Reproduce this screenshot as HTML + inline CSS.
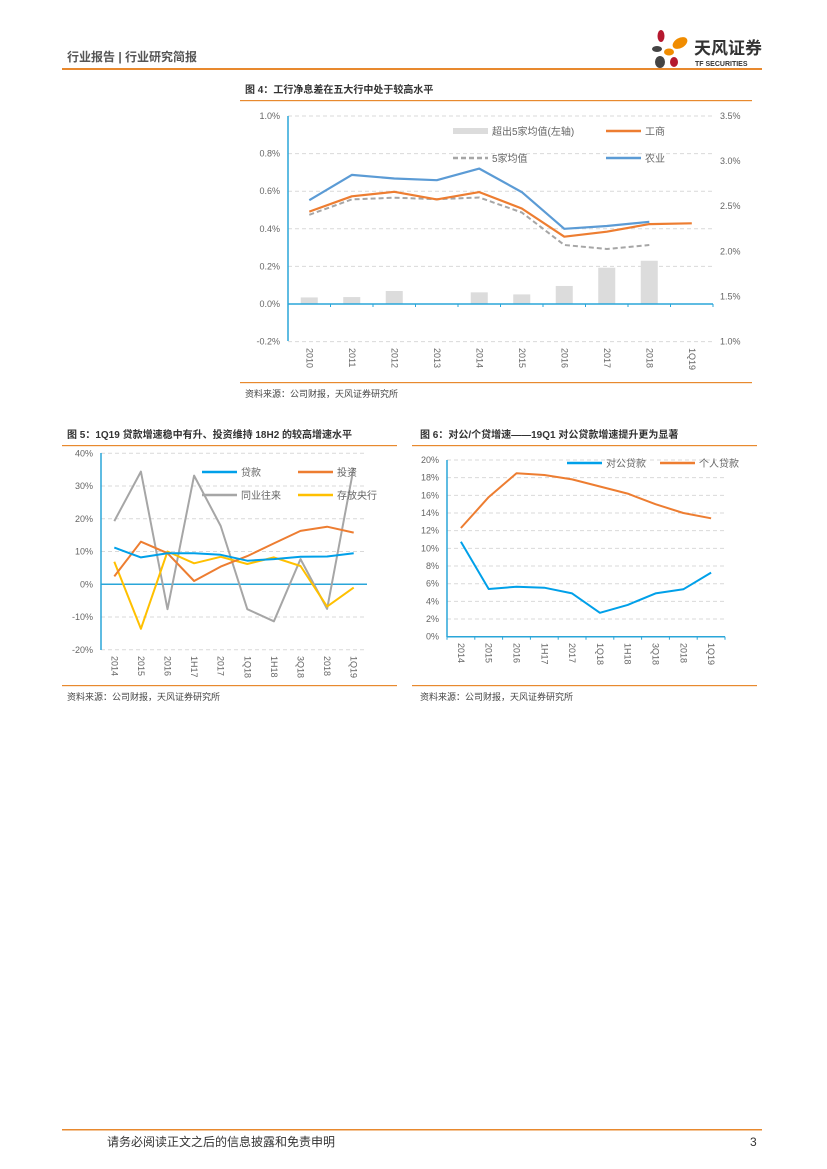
<!DOCTYPE html>
<html><head><meta charset="utf-8">
<style>
html,body{margin:0;padding:0;background:#fff;}
svg{display:block;font-family:"Liberation Sans","Noto Sans CJK SC",sans-serif;}
</style></head>
<body>
<svg id="pg" width="827" height="1169" viewBox="0 0 827 1169" xmlns="http://www.w3.org/2000/svg">
<g>
<text x="67" y="61" font-size="12" font-weight="bold" fill="#555">行业报告 | 行业研究简报</text>
<g>
<ellipse cx="661" cy="36" rx="3.5" ry="6" fill="#b5192f"/>
<ellipse cx="657" cy="49" rx="5" ry="3" fill="#444"/>
<ellipse cx="680" cy="43" rx="8" ry="5" fill="#f08c00" transform="rotate(-30 680 43)"/>
<ellipse cx="669" cy="52" rx="5" ry="3.5" fill="#f08c00"/>
<ellipse cx="660" cy="62" rx="5" ry="6" fill="#444"/>
<ellipse cx="674" cy="62" rx="4" ry="5" fill="#b5192f"/>
<text x="694" y="54" font-size="17" font-weight="bold" fill="#333">天风证券</text>
<text x="695" y="66" font-size="7" font-weight="bold" fill="#333">TF SECURITIES</text>
</g>
<rect x="62" y="68" width="700" height="2" fill="#e8892e"/>
</g>
<g id="c4"></g>
<g id="c5"></g>
<g id="c6"></g>
<g>
<rect x="62" y="1129" width="700" height="1.5" fill="#e8892e"/>
<text x="107" y="1146" font-size="12" fill="#333">请务必阅读正文之后的信息披露和免责申明</text>
<text x="750" y="1146" font-size="12" fill="#333">3</text>
</g>
</svg>
<script>
const NS="http://www.w3.org/2000/svg";
const c4Cats=["2010","2011","2012","2013","2014","2015","2016","2017","2018","1Q19"];
const c4Bars=[0.035,0.037,0.069,0,0.062,0.051,0.096,0.193,0.23,null];
const c4ICBC=[2.44,2.61,2.66,2.575,2.656,2.475,2.162,2.217,2.302,2.31];
const c4Avg=[2.405,2.575,2.594,2.578,2.597,2.43,2.07,2.025,2.07,null];
const c4ABC=[2.567,2.847,2.807,2.788,2.917,2.656,2.25,2.28,2.327,null];
const c4LeftTicks=["-0.2%","0.0%","0.2%","0.4%","0.6%","0.8%","1.0%"];
const c4LeftVals=[-0.2,0,0.2,0.4,0.6,0.8,1.0];
const c4RightTicks=["1.0%","1.5%","2.0%","2.5%","3.0%","3.5%"];
const c4RightVals=[1.0,1.5,2.0,2.5,3.0,3.5];

const c5Cats=["2014","2015","2016","1H17","2017","1Q18","1H18","3Q18","2018","1Q19"];
const c5Loan=[11.2,8.2,9.5,9.5,9.0,7.2,7.7,8.4,8.5,9.5];
const c5Invest=[2.4,13,9.5,1.0,5.4,8.6,12.5,16.3,17.6,15.8];
const c5Interbank=[19.3,34.4,-7.6,33.2,17.8,-7.6,-11.3,7.7,-7.5,35.6];
const c5Central=[6.9,-13.6,10,6.4,8.4,6.2,8.2,5.6,-6.8,-1.0];
const c5Ticks=["-20%","-10%","0%","10%","20%","30%","40%"];
const c5TickVals=[-20,-10,0,10,20,30,40];

const c6Cats=["2014","2015","2016","1H17","2017","1Q18","1H18","3Q18","2018","1Q19"];
const c6Corp=[10.75,5.4,5.66,5.55,4.9,2.7,3.6,4.9,5.36,7.25];
const c6Retail=[12.3,15.8,18.5,18.3,17.8,17.0,16.2,15.0,14.0,13.4];
const c6Ticks=["0%","2%","4%","6%","8%","10%","12%","14%","16%","18%","20%"];
const c6TickVals=[0,2,4,6,8,10,12,14,16,18,20];

function el(parent,tag,attrs,text){
  const e=document.createElementNS(NS,tag);
  for(const k in attrs) e.setAttribute(k,attrs[k]);
  if(text!==undefined) e.textContent=text;
  parent.appendChild(e);return e;
}
function lin(d0,d1,r0,r1){return v=>r0+(v-d0)*(r1-r0)/(d1-d0);}
function linePath(vals,xf,yf){
  let d="",started=false;
  vals.forEach((v,i)=>{if(v===null)return;d+=(started?"L":"M")+xf(i).toFixed(1)+","+yf(v).toFixed(1);started=true;});
  return d;
}
function frame(g,title,tx,ty,rx0,rx1,srcY){
  const t=el(g,"text",{x:tx,y:ty,"font-size":"10","font-weight":"bold",fill:"#333"},title);
  
  
  el(g,"rect",{x:rx0,y:ty+7,width:rx1-rx0,height:1.2,fill:"#e8892e"});
  el(g,"rect",{x:rx0,y:srcY,width:rx1-rx0,height:1.2,fill:"#e8892e"});
  const s=el(g,"text",{x:tx,y:srcY+15,"font-size":"9",fill:"#444"},"资料来源：公司财报，天风证券研究所");
  
  
}
function catLabels(g,cats,xf,y){
  cats.forEach((c,i)=>{
    const t=el(g,"text",{x:0,y:0,"font-size":"9",fill:"#666",transform:`translate(${xf(i)-3},${y}) rotate(90)`},c);
    
    
  });
}
function series(g,vals,xf,yf,color,w,name,dash){
  const p=el(g,"path",{d:linePath(vals,xf,yf),fill:"none",stroke:color,"stroke-width":w,"stroke-linejoin":"round"});
  if(dash)p.setAttribute("stroke-dasharray",dash);
  
  
}
function legend(g,x,y,color,label,name,dash,isBar){
  const lg=el(g,"g",{});
  
  
  if(isBar) el(lg,"rect",{x:x,y:y-3,width:35,height:6,fill:"#dcdcdc"});
  else{const l=el(lg,"line",{x1:x,y1:y,x2:x+35,y2:y,stroke:color,"stroke-width":2.5});if(dash)l.setAttribute("stroke-dasharray",dash);}
  el(lg,"text",{x:x+39,y:y+4,"font-size":"10",fill:"#666"},label);
}

// Figure 4
(function(){
  const g=document.getElementById("c4");
  frame(g,"图 4：工行净息差在五大行中处于较高水平",245,93,240,752,382);
  const x0=288,x1=713,n=c4Cats.length,bw=(x1-x0)/n;
  const xf=i=>x0+bw*(i+0.5);
  const yL=lin(0,1.0,304,116), yR=lin(1.0,3.5,341.5,116);
  c4LeftVals.forEach((v,i)=>{
    el(g,"line",{x1:x0,x2:x1,y1:yL(v),y2:yL(v),stroke:"#d9d9d9","stroke-dasharray":"4,3"});
    const t=el(g,"text",{x:x0-8,y:yL(v)+3,"font-size":"9",fill:"#666","text-anchor":"end"},c4LeftTicks[i]);
    
    
  });
  c4RightVals.forEach((v,i)=>{
    const t=el(g,"text",{x:720,y:yR(v)+3,"font-size":"9",fill:"#666"},c4RightTicks[i]);
    
    
  });
  c4Bars.forEach((v,i)=>{
    if(v===null||v===0)return;
    const r=el(g,"rect",{x:xf(i)-8.5,y:yL(v),width:17,height:yL(0)-yL(v),fill:"#dcdcdc"});
    
    
  });
  el(g,"line",{x1:x0,x2:x0,y1:116,y2:341,stroke:"#2aa6d9","stroke-width":1.5});
  el(g,"line",{x1:x0,x2:x1,y1:yL(0),y2:yL(0),stroke:"#2aa6d9","stroke-width":1.5});
  for(let i=0;i<=n;i++) el(g,"line",{x1:x0+bw*i,x2:x0+bw*i,y1:yL(0),y2:yL(0)+3,stroke:"#2aa6d9"});
  series(g,c4Avg,xf,yR,"#a6a6a6",2,"line-five-bank-avg","5,3");
  series(g,c4ICBC,xf,yR,"#ed7d31",2.2,"line-icbc");
  series(g,c4ABC,xf,yR,"#5b9bd5",2.2,"line-abc");
  catLabels(g,c4Cats,xf,348);
  legend(g,453,131,"#ccc","超出5家均值(左轴)","legend-excess",null,true);
  legend(g,606,131,"#ed7d31","工商","legend-icbc");
  legend(g,453,158,"#a6a6a6","5家均值","legend-avg","5,3");
  legend(g,606,158,"#5b9bd5","农业","legend-abc");
})();

// Figure 5
(function(){
  const g=document.getElementById("c5");
  frame(g,"图 5：1Q19 贷款增速稳中有升、投资维持 18H2 的较高增速水平",67,438,62,397,685);
  const x0=101,x1=367,n=c5Cats.length,bw=(x1-x0)/n;
  const xf=i=>x0+bw*(i+0.5);
  const yf=lin(0,40,584.3,453.3);
  c5TickVals.forEach((v,i)=>{
    if(v!==0) el(g,"line",{x1:x0,x2:x1,y1:yf(v),y2:yf(v),stroke:"#d9d9d9","stroke-dasharray":"4,3"});
    const t=el(g,"text",{x:x0-8,y:yf(v)+3,"font-size":"9",fill:"#666","text-anchor":"end"},c5Ticks[i]);
    
    
  });
  el(g,"line",{x1:x0,x2:x0,y1:453,y2:650,stroke:"#2aa6d9","stroke-width":1.5});
  el(g,"line",{x1:x0,x2:x1,y1:yf(0),y2:yf(0),stroke:"#2aa6d9","stroke-width":1.5});
  series(g,c5Interbank,xf,yf,"#a6a6a6",2,"line-interbank");
  series(g,c5Central,xf,yf,"#ffc000",2,"line-central-bank");
  series(g,c5Invest,xf,yf,"#ed7d31",2,"line-investment");
  series(g,c5Loan,xf,yf,"#00a0e9",2,"line-loans");
  catLabels(g,c5Cats,xf,656);
  legend(g,202,472,"#00a0e9","贷款","legend-loans");
  legend(g,298,472,"#ed7d31","投资","legend-investment");
  legend(g,202,495,"#a6a6a6","同业往来","legend-interbank");
  legend(g,298,495,"#ffc000","存放央行","legend-central-bank");
})();

// Figure 6
(function(){
  const g=document.getElementById("c6");
  frame(g,"图 6：对公/个贷增速——19Q1 对公贷款增速提升更为显著",420,438,412,757,685);
  const x0=447,x1=725,n=c6Cats.length,bw=(x1-x0)/n;
  const xf=i=>x0+bw*(i+0.5);
  const yf=lin(0,20,636.7,460);
  c6TickVals.forEach((v,i)=>{
    if(v!==0) el(g,"line",{x1:x0,x2:x1,y1:yf(v),y2:yf(v),stroke:"#d9d9d9","stroke-dasharray":"4,3"});
    const t=el(g,"text",{x:x0-8,y:yf(v)+3,"font-size":"9",fill:"#666","text-anchor":"end"},c6Ticks[i]);
    
    
  });
  el(g,"line",{x1:x0,x2:x0,y1:460,y2:637,stroke:"#2aa6d9","stroke-width":1.5});
  el(g,"line",{x1:x0,x2:x1,y1:yf(0),y2:yf(0),stroke:"#2aa6d9","stroke-width":1.5});
  for(let i=0;i<=n;i++) el(g,"line",{x1:x0+bw*i,x2:x0+bw*i,y1:yf(0),y2:yf(0)+3,stroke:"#2aa6d9"});
  series(g,c6Retail,xf,yf,"#ed7d31",2,"line-retail-loans");
  series(g,c6Corp,xf,yf,"#00a0e9",2,"line-corporate-loans");
  catLabels(g,c6Cats,xf,643);
  legend(g,567,463,"#00a0e9","对公贷款","legend-corporate");
  legend(g,660,463,"#ed7d31","个人贷款","legend-retail");
})();
</script>
</body></html>
